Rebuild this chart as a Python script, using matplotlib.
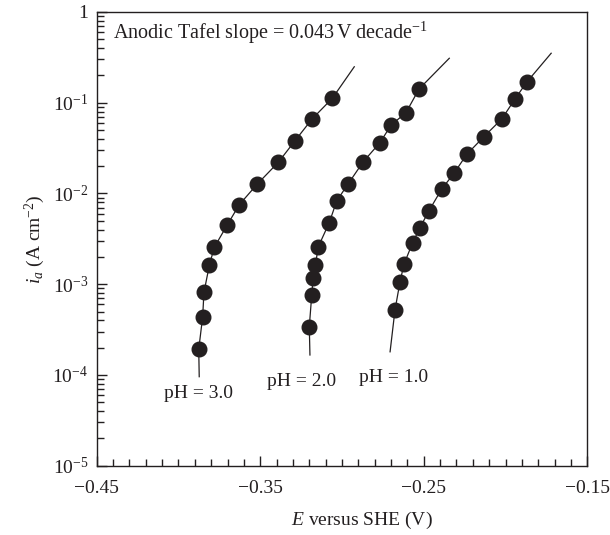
import math
import matplotlib
matplotlib.use("Agg")
import matplotlib.pyplot as plt
from matplotlib.ticker import FixedLocator, FuncFormatter, LogLocator, NullFormatter

plt.rcParams['font.family'] = ['Liberation Serif', 'DejaVu Serif']
plt.rcParams['mathtext.fontset'] = 'custom'
plt.rcParams['mathtext.rm'] = 'Liberation Serif'
plt.rcParams['mathtext.it'] = 'Liberation Serif:italic'
plt.rcParams['mathtext.bf'] = 'Liberation Serif:bold'

# ---- data ----
E_ph3 = [-0.3876, -0.3852, -0.3844, -0.3811, -0.3781, -0.3703, -0.3628, -0.3518,
         -0.3389, -0.3287, -0.3183, -0.3059]
i_ph3 = [1.92e-4, 4.38e-4, 8.15e-4, 1.62e-3, 2.55e-3, 4.46e-3, 7.52e-3, 1.27e-2,
         2.21e-2, 3.82e-2, 6.62e-2, 0.112]

E_ph2 = [-0.3200, -0.3185, -0.3176, -0.3163, -0.3145, -0.3078, -0.3032, -0.2963,
         -0.2870, -0.2768, -0.2699, -0.2609, -0.2529]
i_ph2 = [3.40e-4, 7.60e-4, 1.18e-3, 1.62e-3, 2.59e-3, 4.76e-3, 8.31e-3, 1.27e-2,
         2.24e-2, 3.63e-2, 5.69e-2, 7.76e-2, 0.1416]

E_ph1 = [-0.2676, -0.2645, -0.2621, -0.2568, -0.2523, -0.2468, -0.2390, -0.2315,
         -0.2237, -0.2132, -0.2023, -0.1942, -0.1871]
i_ph1 = [5.20e-4, 1.07e-3, 1.66e-3, 2.87e-3, 4.20e-3, 6.46e-3, 1.12e-2, 1.67e-2,
         2.70e-2, 4.23e-2, 6.62e-2, 0.110, 0.168]

# fitted-curve end points
fit_ph3_start, fit_ph3_end = (-0.3873, 9.57e-5), (-0.2925, 0.249)
fit_ph2_start, fit_ph2_end = (-0.3196, 1.66e-4), (-0.2344, 0.309)
fit_ph1_start, fit_ph1_end = (-0.2706, 1.80e-4), (-0.1721, 0.351)

labels = ["pH = 3.0", "pH = 2.0", "pH = 1.0"]
label_pos = [(-0.3880, 6.2e-5), (-0.3245, 8.5e-5), (-0.2685, 9.3e-5)]

x_ticks = [-0.45, -0.35, -0.25, -0.15]
x_tick_labels = ["\u22120.45", "\u22120.35", "\u22120.25", "\u22120.15"]
y_ticks = [1e-5, 1e-4, 1e-3, 1e-2, 1e-1, 1]

ink = '#231f20'
fs = 14

fig = plt.figure(figsize=(6.10, 5.35), dpi=100)
ax = fig.add_axes([0.1585, 0.1295, 0.8043, 0.8481])

series = [(E_ph3, i_ph3, fit_ph3_start, fit_ph3_end),
          (E_ph2, i_ph2, fit_ph2_start, fit_ph2_end),
          (E_ph1, i_ph1, fit_ph1_start, fit_ph1_end)]
for E, i, s, e in series:
    lx = [s[0]] + list(E) + [e[0]]
    ly = [s[1]] + list(i) + [e[1]]
    ax.plot(lx, ly, color=ink, lw=0.9, zorder=2)
    ax.plot(E, i, 'o', color=ink, ms=10.5, mec=ink, zorder=3)

for lab, (x, y) in zip(labels, label_pos):
    ax.text(x, y, lab, ha='center', va='center', fontsize=fs, color=ink)

ax.text(0.034, 0.955, r"Anodic Tafel slope = 0.043$\,$V decade$^{-1}$",
        transform=ax.transAxes, ha='left', va='center', fontsize=14.5, color=ink)

ax.set_yscale('log')
ax.set_xlim(-0.45, -0.15)
ax.set_ylim(1e-5, 1)

ax.xaxis.set_major_locator(FixedLocator(x_ticks))
ax.set_xticklabels(x_tick_labels)
ax.xaxis.set_minor_locator(FixedLocator([round(-0.45 + 0.01 * k, 3) for k in range(31)]))

ax.yaxis.set_major_locator(FixedLocator(y_ticks))
ax.yaxis.set_major_formatter(FuncFormatter(
    lambda v, p: "1" if abs(v - 1) < 1e-9 else r"$10^{%d}$" % round(math.log10(v))))
ax.yaxis.set_minor_locator(LogLocator(base=10, subs=range(2, 10), numticks=20))
ax.yaxis.set_minor_formatter(NullFormatter())

ax.tick_params(axis='both', which='both', direction='in', top=False, right=False,
               colors=ink, labelsize=fs, width=1.0)
ax.tick_params(axis='both', which='major', length=7)
ax.tick_params(axis='both', which='minor', length=5)
ax.tick_params(axis='x', which='major', pad=10)
ax.tick_params(axis='y', which='major', pad=6)

for sp in ax.spines.values():
    sp.set_linewidth(1.0)
    sp.set_color(ink)

ax.set_xlabel(r"$E$ versus SHE (V)", fontsize=fs, color=ink)
ax.xaxis.set_label_coords(0.541, -0.097)
ax.set_ylabel(r"$i_a$ (A cm$^{-2}$)", fontsize=fs, color=ink, labelpad=4)

fig.savefig("out.png", dpi=100)
